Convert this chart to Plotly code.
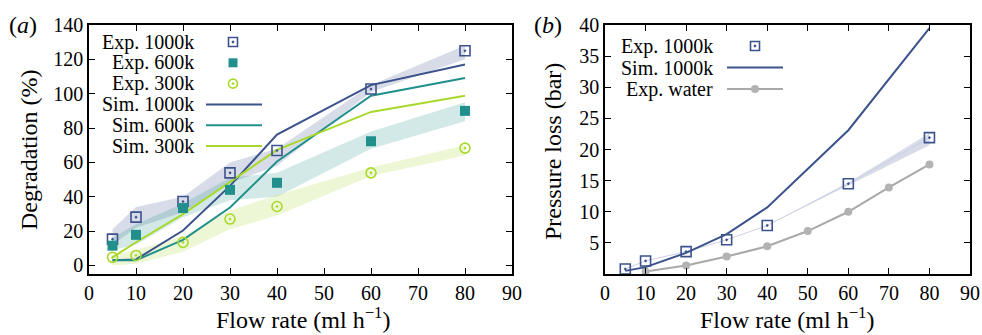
import plotly.graph_objects as go

# ---------------- data ----------------
flow = [5, 10, 20, 30, 40, 60, 80]

# (a) degradation (%)
exp_1000k = [15.3, 28.1, 37.2, 53.9, 66.9, 102.7, 125.0]
exp_1000k_lo = [12, 22, 31, 48, 58, 101, 120]
exp_1000k_hi = [21, 34, 40, 60, 68, 105, 128]

exp_600k = [11.5, 17.8, 33.4, 44.0, 48.1, 72.3, 90.0]
exp_600k_lo = [9, 12, 28, 38, 40, 68, 84]
exp_600k_hi = [16, 24, 36, 51, 54, 78, 95]

exp_300k = [4.7, 5.8, 13.4, 27.0, 34.3, 53.9, 68.3]
exp_300k_lo = [0, 1, 8, 21, 29, 52, 64]
exp_300k_hi = [6, 9, 17, 32, 41, 57, 70]

sim_1000k = [3.0, 3.5, 20.3, 46.3, 76.2, 105.0, 117.0]
sim_600k = [3.0, 3.0, 14.9, 33.7, 60.5, 98.8, 109.1]
sim_300k = [4.7, 13.5, 29.9, 48.8, 67.3, 89.4, 98.8]

# (b) pressure loss (bar)
p_exp_1000k = [0.8, 2.1, 3.6, 5.5, 7.8, 14.5, 21.9]
p_exp_1000k_lo = [0.8, 2.1, 3.6, 5.5, 7.8, 14.3, 20.7]
p_exp_1000k_hi = [0.8, 2.1, 3.6, 5.5, 7.8, 14.7, 22.6]
p_sim_1000k = [0.5, 1.1, 3.4, 6.4, 10.7, 23.1, 39.5]
water_flow = [10, 20, 30, 40, 50, 60, 70, 80]
p_water = [0.4, 1.35, 2.8, 4.45, 6.9, 10.0, 13.9, 17.6]

x_ticks = [0, 10, 20, 30, 40, 50, 60, 70, 80, 90]
deg_ticks = [0, 20, 40, 60, 80, 100, 120, 140]
p_ticks = [5, 10, 15, 20, 25, 30, 35, 40]

# ---------------- styles ----------------
C1000 = "#3b528b"
C600 = "#21908d"
C300 = "#a8d82c"
CWATER = "#a9a9a9"
FONT = "Liberation Serif"
W, H = 982, 335

fig = go.Figure()


def band(x, lo, hi, color, xa, ya):
    fig.add_trace(go.Scatter(x=x, y=lo, mode="lines", line=dict(width=0),
                             hoverinfo="skip", showlegend=False, xaxis=xa, yaxis=ya))
    fig.add_trace(go.Scatter(x=x, y=hi, mode="lines", line=dict(width=0),
                             fill="tonexty", fillcolor=color,
                             hoverinfo="skip", showlegend=False, xaxis=xa, yaxis=ya))


# panel (a): uncertainty bands
band(flow, exp_1000k_lo, exp_1000k_hi, "rgba(59,82,139,0.2)", "x", "y")
band(flow, exp_600k_lo, exp_600k_hi, "rgba(33,144,141,0.2)", "x", "y")
band(flow, exp_300k_lo, exp_300k_hi, "rgba(168,216,44,0.2)", "x", "y")

# panel (a): simulations
for ys, c in [(sim_1000k, C1000), (sim_600k, C600), (sim_300k, C300)]:
    fig.add_trace(go.Scatter(x=flow, y=ys, mode="lines", line=dict(color=c, width=2),
                             showlegend=False, xaxis="x", yaxis="y"))

# panel (a): experiments
fig.add_trace(go.Scatter(x=flow, y=exp_1000k, mode="markers", showlegend=False,
                         marker=dict(symbol="square-open-dot", size=10, color=C1000,
                                     line=dict(width=1.6, color=C1000)),
                         xaxis="x", yaxis="y"))
fig.add_trace(go.Scatter(x=flow, y=exp_600k, mode="markers", showlegend=False,
                         marker=dict(symbol="square", size=10, color=C600,
                                     line=dict(width=0)),
                         xaxis="x", yaxis="y"))
fig.add_trace(go.Scatter(x=flow, y=exp_300k, mode="markers", showlegend=False,
                         marker=dict(symbol="circle-open-dot", size=10, color=C300,
                                     line=dict(width=1.6, color=C300)),
                         xaxis="x", yaxis="y"))

# panel (b)
band(flow, p_exp_1000k_lo, p_exp_1000k_hi, "rgba(59,82,139,0.2)", "x2", "y2")
fig.add_trace(go.Scatter(x=flow, y=p_exp_1000k, mode="lines", showlegend=False,
                         line=dict(color="#ccd1e3", width=1), xaxis="x2", yaxis="y2"))
fig.add_trace(go.Scatter(x=water_flow, y=p_water, mode="lines+markers", showlegend=False,
                         line=dict(color=CWATER, width=2),
                         marker=dict(symbol="circle", size=8, color="#b3b3b3"),
                         xaxis="x2", yaxis="y2"))
fig.add_trace(go.Scatter(x=flow, y=p_sim_1000k, mode="lines", showlegend=False,
                         line=dict(color=C1000, width=2), xaxis="x2", yaxis="y2"))
fig.add_trace(go.Scatter(x=flow, y=p_exp_1000k, mode="markers", showlegend=False,
                         marker=dict(symbol="square-open-dot", size=10, color=C1000,
                                     line=dict(width=1.6, color=C1000)),
                         xaxis="x2", yaxis="y2"))

# ---------------- legend keys (text left, key right) on a pixel overlay ----------------
legend_a = [
    ("Exp. 1000k", "square-open-dot", None, C1000),
    ("Exp. 600k", "square", None, C600),
    ("Exp. 300k", "circle-open-dot", None, C300),
    ("Sim. 1000k", None, "line", C1000),
    ("Sim. 600k", None, "line", C600),
    ("Sim. 300k", None, "line", C300),
]
legend_b = [
    ("Exp. 1000k", "square-open-dot", None, C1000),
    ("Sim. 1000k", None, "line", C1000),
    ("Exp. water", "circle", "line", CWATER),
]

annotations = []


def draw_legend(items, text_right, y0, dy, sym_x, lx0, lx1):
    for i, (label, sym, ln, col) in enumerate(items):
        yy = y0 + i * dy
        annotations.append(dict(x=text_right, y=yy, xref="x3", yref="y3", text=label,
                                showarrow=False, xanchor="right", yanchor="middle",
                                font=dict(family=FONT, size=20, color="black")))
        if ln:
            fig.add_trace(go.Scatter(x=[lx0, lx1], y=[yy, yy], mode="lines",
                                     line=dict(color=col, width=2), showlegend=False,
                                     hoverinfo="skip", xaxis="x3", yaxis="y3"))
        if sym:
            solid = sym in ("square", "circle")
            fig.add_trace(go.Scatter(x=[sym_x], y=[yy], mode="markers", showlegend=False,
                                     hoverinfo="skip",
                                     marker=dict(symbol=sym, size=9 if sym != "circle" else 8,
                                                 color=col if sym != "circle" else "#b3b3b3",
                                                 line=dict(width=0 if solid else 1.6, color=col)),
                                     xaxis="x3", yaxis="y3"))


draw_legend(legend_a, 196, 42, 20.8, 233, 206, 262)
draw_legend(legend_b, 715, 46, 21.5, 755, 727, 783)

# ---------------- axis titles and panel labels ----------------
title_font = dict(family=FONT, size=24, color="black")
annotations += [
    dict(x=29, y=150, text="Degradation (%)", textangle=-90, font=title_font),
    dict(x=553, y=152, text="Pressure loss (bar)", textangle=-90, font=title_font),
    dict(x=303, y=H, text="Flow rate (ml h<sup>−1</sup>)", font=title_font, yanchor="bottom"),
    dict(x=787, y=H, text="Flow rate (ml h<sup>−1</sup>)", font=title_font, yanchor="bottom"),
    dict(x=23, y=25, text="(<i>a</i>)", font=title_font),
    dict(x=548, y=25, text="(<i>b</i>)", font=title_font),
]
for a in annotations[-6:]:
    a.setdefault("yanchor", "middle")
    a.update(xref="x3", yref="y3", showarrow=False, xanchor="center")

# ---------------- layout ----------------
y_top = 1 - 25 / H
y_bot = 1 - 274 / H
axis_common = dict(showline=True, linecolor="black", linewidth=1.5, mirror="allticks",
                   ticks="inside", ticklen=6, tickwidth=1, tickcolor="black",
                   showgrid=False, zeroline=False, automargin=False,
                   tickfont=dict(family=FONT, size=20, color="black"))

fig.update_layout(
    width=W, height=H,
    margin=dict(l=0, r=0, t=0, b=0),
    paper_bgcolor="white", plot_bgcolor="rgba(0,0,0,0)",
    showlegend=False,
    xaxis=dict(domain=[89 / W, 512 / W], range=[0, 90], tickvals=x_ticks,
               anchor="y", **axis_common),
    yaxis=dict(domain=[y_bot, y_top], range=[-5, 140], tickvals=deg_ticks,
               anchor="x", **axis_common),
    xaxis2=dict(domain=[605 / W, 970 / W], range=[0, 90], tickvals=x_ticks,
                anchor="y2", **axis_common),
    yaxis2=dict(domain=[y_bot, y_top], range=[0, 40], tickvals=p_ticks,
                anchor="x2", **axis_common),
    xaxis3=dict(domain=[0, 1], range=[0, W], visible=False, anchor="y3",
                fixedrange=True, automargin=False),
    yaxis3=dict(domain=[0, 1], range=[H, 0], visible=False, anchor="x3",
                fixedrange=True, automargin=False),
    annotations=annotations,
)

fig.write_html("out.html")
